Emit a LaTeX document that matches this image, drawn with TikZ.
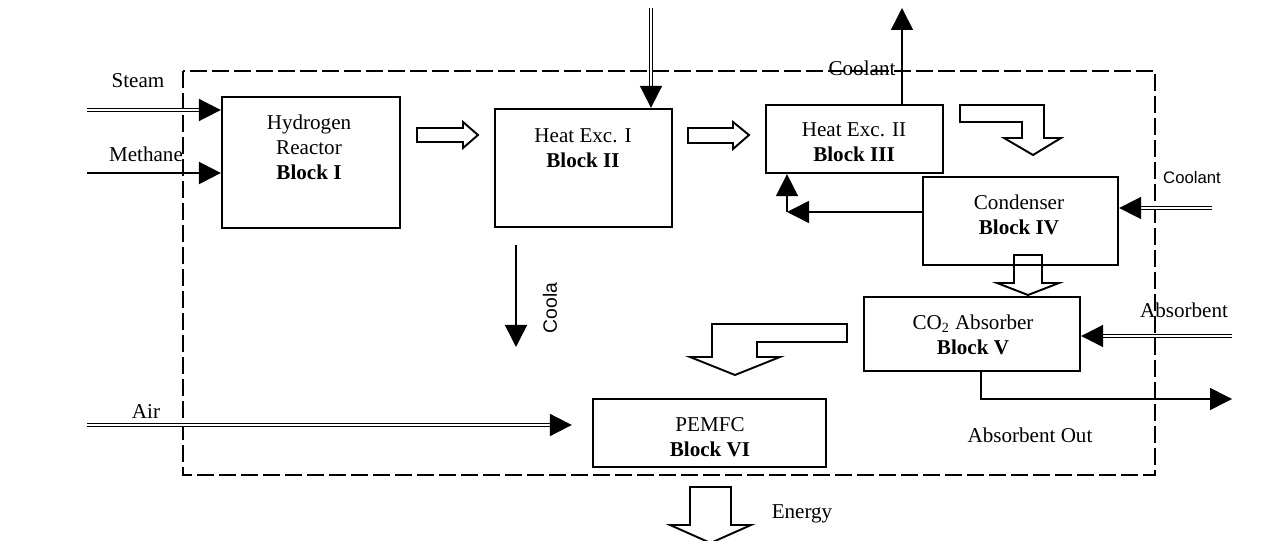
\documentclass[tikz,border=0pt]{standalone}
\usepackage{fontspec}
\setmainfont{Liberation Serif}
\setsansfont{Liberation Sans}
\usetikzlibrary{arrows.meta}

\begin{document}
\begin{tikzpicture}[x=.2mm,y=-.2mm,line join=miter,
 font=\fontsize{12}{14.2}\selectfont,
 box/.style={draw,line width=1.3pt,inner sep=0pt},
 txt/.style={align=center,inner sep=1pt},
 bound/.style={line width=1.1pt,dash pattern=on 3.4mm off 1mm},
 tip/.style={-{Triangle[length=4.4mm,width=4.4mm]}},
 sgl/.style={tip,line width=.9pt},
 dbl/.style={tip,double,double distance=.8pt,line width=1pt},
 hollow/.style={draw,fill=white,line width=1.1pt}]
\useasboundingbox (0,0) rectangle (1262,541);
% system boundary
\draw[bound] (183,71) rectangle (1155,475);
% blocks
\node[box,minimum width=35.6mm,minimum height=26.2mm] (hr) at (311,162.5) {};
\node[box,minimum width=35.4mm,minimum height=23.6mm] (he1) at (583.5,168) {};
\node[box,minimum width=35.4mm,minimum height=13.6mm] (he2) at (854.5,139) {};
\node[box,minimum width=39mm,minimum height=17.6mm] (cond) at (1020.5,221) {};
\node[box,minimum width=43.2mm,minimum height=14.8mm] (abs) at (972,334) {};
\node[box,minimum width=46.6mm,minimum height=13.6mm] (pem) at (709.5,433) {};
\node[txt] (hrtxt) at (309,147) {Hydrogen\\Reactor\\\textbf{Block I}};
\node[txt] (he1txt) at (583,148) {Heat Exc. I\\\textbf{Block II}};
\node[txt] (he2txt) at (854,142) {Heat Exc. II\\\textbf{Block III}};
\node[txt] (condtxt) at (1019,215) {Condenser\\\textbf{Block IV}};
\node[txt] (abstxt) at (973,335) {CO\textsubscript{2} Absorber\\\textbf{Block V}};
\node[txt] (pemtxt) at (710,437) {PEMFC\\\textbf{Block VI}};
% feeds
\coordinate (steam) at (87,110);
\draw[dbl] (steam) -- (steam -| hr.west);
\node (steamlbl) at (138,81) {Steam};
\coordinate (meth) at (87,173);
\draw[tip,line width=1.4pt] (meth) -- (meth -| hr.west);
\node (methlbl) at (146,154) {Methane};
\coordinate (feed2) at (651,8);
\draw[dbl] (feed2) -- (feed2 |- he1.north);
\coordinate (cool1) at (902,8);
\draw[sgl] (cool1 |- he2.north) -- (cool1);
\node (cool1lbl) at (862,68) {Coolant};
\coordinate (coolaA) at (516,245);
\coordinate (coolaB) at (516,347);
\draw[sgl] (coolaA) -- (coolaB);
\node[rotate=90,font=\sffamily\fontsize{11}{13}\selectfont] (coolalbl) at (550,308) {Coola};
\coordinate (ret) at (787,212);
\draw[sgl] (cond.west |- ret) -- (ret);
\draw[sgl] (ret) -- (ret |- he2.south);
\coordinate (cool2) at (1212,208);
\draw[dbl] (cool2) -- (cool2 -| cond.east);
\node[font=\sffamily\fontsize{9.5}{11}\selectfont] (cool2lbl) at (1192,178) {Coolant};
\coordinate (absin) at (1232,336);
\draw[dbl] (absin) -- (absin -| abs.east);
\node (absinlbl) at (1184,310) {Absorbent};
\coordinate (absout) at (981,399);
\coordinate (absend) at (1232,399);
\draw[sgl] (absout |- abs.south) -- (absout) -- (absend);
\node (absoutlbl) at (1030,435) {Absorbent Out};
\coordinate (air) at (87,425);
\draw[dbl,shorten >=4mm] (air) -- (air -| pem.west);
\node (airlbl) at (146,412) {Air};
% block arrows
\draw[hollow] (417,128) -- (463,128) -- (463,122) -- (478,135) -- (463,148)
 -- (463,142) -- (417,142) -- cycle;
\draw[hollow] (688,128) -- (733,128) -- (733,122) -- (749,135) -- (733,149)
 -- (733,143) -- (688,143) -- cycle;
\draw[hollow] (960,105) -- (1044,105) -- (1044,138) -- (1061,138) -- (1033,155)
 -- (1004,138) -- (1022,138) -- (1022,122) -- (960,122) -- cycle;
\draw[hollow,fill=none] (1014,255) -- (1042,255) -- (1042,283) -- (1059,283)
 -- (1028,295) -- (997,283) -- (1014,283) -- cycle;
\draw[hollow] (847,324) -- (712,324) -- (712,357) -- (690,357) -- (735,375)
 -- (780,357) -- (757,357) -- (757,342) -- (847,342) -- cycle;
\draw[hollow] (690,487) -- (731,487) -- (731,525) -- (751,525) -- (710.5,543)
 -- (670,525) -- (690,525) -- cycle;
\node (energylbl) at (802,514) {Energy};
\end{tikzpicture}
\end{document}
